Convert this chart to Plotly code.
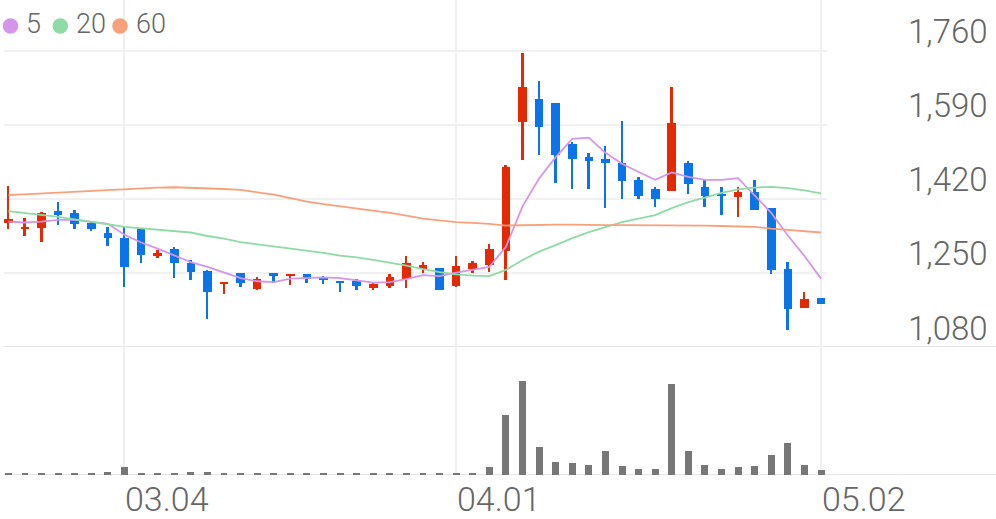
import numpy as np
import plotly.graph_objects as go

dates = ["02.20","02.21","02.24","02.25","02.26","02.27","02.28","03.04","03.05","03.06",
         "03.07","03.10","03.11","03.12","03.13","03.14","03.17","03.18","03.19","03.20",
         "03.21","03.24","03.25","03.26","03.27","03.28","03.31","04.01","04.02","04.03",
         "04.04","04.07","04.08","04.09","04.10","04.11","04.14","04.15","04.16","04.17",
         "04.18","04.21","04.22","04.23","04.24","04.25","04.28","04.29","04.30","05.02"]

opens = [1365,1353,1354,1393,1387,1366,1341,1331,1350,1291,
         1305,1274,1255,1225,1251,1213,1249,1243,1247,1240,
         1232,1232,1216,1219,1236,1259,1261,1219,1259,1268,
         1301,1598,1650,1641,1546,1516,1511,1503,1464,1443,
         1438,1502,1447,1432,1425,1437,1399,1259,1169,1193]
highs = [1450,1377,1391,1414,1395,1370,1356,1355,1350,1303,
         1309,1280,1257,1230,1251,1240,1249,1248,1247,1242,
         1232,1236,1228,1247,1289,1275,1261,1289,1278,1316,
         1498,1756,1692,1641,1552,1526,1542,1599,1471,1448,
         1677,1507,1464,1448,1448,1464,1399,1276,1206,1193]
lows = [1351,1336,1322,1360,1350,1347,1312,1217,1272,1284,
        1238,1234,1144,1202,1218,1212,1228,1222,1228,1224,
        1207,1211,1211,1215,1215,1249,1212,1218,1251,1253,
        1234,1509,1521,1457,1443,1443,1400,1420,1420,1402,
        1438,1431,1401,1383,1379,1395,1248,1119,1169,1179]
closes = [1374,1356,1387,1383,1362,1351,1330,1264,1291,1295,
          1272,1253,1207,1230,1228,1236,1243,1248,1236,1236,
          1226,1219,1224,1240,1272,1268,1212,1265,1272,1304,
          1494,1678,1585,1521,1512,1508,1502,1462,1427,1420,
          1594,1454,1427,1426,1437,1395,1257,1167,1190,1179]

ma5 = [1368,1366,1368,1372,1372,1368,1363,1338,1320,1306,
       1290,1275,1264,1251,1238,1231,1229,1237,1238,1240,
       1238,1233,1228,1229,1236,1245,1243,1251,1258,1264,
       1310,1403,1467,1516,1558,1561,1526,1501,1482,1464,
       1481,1471,1464,1464,1468,1428,1388,1336,1289,1237]
ma20 = [1392,1388,1383,1379,1373,1368,1362,1356,1353,1350,
        1347,1343,1335,1329,1321,1316,1312,1307,1302,1296,
        1290,1286,1280,1274,1267,1259,1252,1247,1244,1243,
        1257,1280,1299,1314,1330,1344,1356,1367,1375,1383,
        1399,1413,1423,1434,1442,1446,1448,1445,1440,1433]
ma60 = [1429,1431,1433,1435,1437,1439,1441,1443,1444,1446,
        1447,1446,1445,1443,1441,1436,1430,1422,1414,1408,
        1403,1399,1394,1388,1382,1375,1371,1367,1365,1363,
        1359,1360,1361,1361,1361,1360,1360,1360,1360,1359,
        1359,1359,1359,1358,1357,1356,1352,1349,1345,1343]

volumes = [17,15,17,15,15,15,27,77,25,14,
           14,26,33,15,14,14,13,14,14,13,
           14,14,13,15,17,15,18,17,22,77,
           600,940,283,133,117,100,240,90,57,63,
           910,243,97,63,77,90,200,323,100,50]

price_ticks = [1080, 1250, 1420, 1590, 1760]
price_labels = ["1,080", "1,250", "1,420", "1,590", "1,760"]
date_ticks = ["03.04", "04.01", "05.02"]

ma_names = ["5", "20", "60"]
ma_colors = ["#d595ea", "#8edba5", "#f7a17b"]

UP = "#e32a05"
DOWN = "#0a74e8"
TXT = "#666666"
GRID = "#f0f0f0"

W, H = 996, 519
o = np.array(opens, float); c = np.array(closes, float)
hi = np.array(highs, float); lo = np.array(lows, float)
cols = [UP if cc >= oo else DOWN for oo, cc in zip(o, c)]

fig = go.Figure()
fig.add_trace(go.Bar(x=dates, y=hi - lo, base=lo, width=0.12,
                     marker=dict(color=cols, line=dict(width=0)),
                     xaxis="x", yaxis="y", hoverinfo="skip", showlegend=False))
fig.add_trace(go.Bar(x=dates, y=np.abs(c - o), base=np.minimum(o, c), width=0.52,
                     marker=dict(color=cols, line=dict(width=0)),
                     xaxis="x", yaxis="y", showlegend=False))
for name, vals, col in zip(ma_names, [ma5, ma20, ma60], ma_colors):
    fig.add_trace(go.Scatter(x=dates, y=vals, mode="lines", name=name,
                             line=dict(color=col, width=1.8),
                             xaxis="x", yaxis="y", showlegend=False))
fig.add_trace(go.Bar(x=dates, y=volumes, width=0.42,
                     marker=dict(color="#777777", line=dict(width=0)),
                     xaxis="x2", yaxis="y2", showlegend=False))

xr = [-0.265, 49.36]
xdom = [4 / W, 827 / W]
price_dom = [1 - 347 / H, 1]
vol_dom = [1 - 475 / H, 1 - 347 / H]

axis_common = dict(type="category", range=xr, domain=xdom, showgrid=True,
                   gridcolor=GRID, gridwidth=1.5, tickvals=date_ticks,
                   showticklabels=False, ticks="", zeroline=False, showline=False,
                   fixedrange=True)

fig.update_layout(
    width=W, height=H, margin=dict(l=0, r=0, t=0, b=0),
    paper_bgcolor="white", plot_bgcolor="white",
    barmode="overlay", bargap=0, showlegend=False,
    xaxis=dict(anchor="y", **axis_common),
    xaxis2=dict(anchor="y2", **axis_common),
    yaxis=dict(domain=price_dom, range=[1080, 1877.1], tickvals=price_ticks[1:],
               showgrid=True, gridcolor=GRID, gridwidth=2, showticklabels=False,
               zeroline=False, showline=False, ticks="", fixedrange=True),
    yaxis2=dict(domain=vol_dom, range=[0, 1280], showgrid=False, showticklabels=False,
                zeroline=False, showline=False, ticks="", fixedrange=True),
)

fig.add_shape(type="line", xref="paper", yref="y", x0=4 / W, x1=1, y0=1080, y1=1080,
              line=dict(color="#e6e6e6", width=2), layer="below")
fig.add_shape(type="line", xref="paper", yref="y2", x0=4 / W, x1=1, y0=0, y1=0,
              line=dict(color="#e6e6e6", width=2), layer="below")

font_y = dict(family="Roboto", size=33, color=TXT, weight=300)
font_x = dict(family="Roboto", size=34, color=TXT, weight=300)
for v, t in zip(price_ticks, price_labels):
    fig.add_annotation(x=990 / W, xref="paper", y=v, yref="y", text=t, showarrow=False,
                       xanchor="right", yanchor="middle", yshift=19, font=font_y)
for d in date_ticks:
    fig.add_annotation(x=dates.index(d), xref="x2", y=1 - 498.5 / H, yref="paper", text=d,
                       showarrow=False, xanchor="left", yanchor="middle", xshift=-1,
                       font=font_x)

dot_cx = [10.5, 60.3, 120.0]
txt_x = [24.0, 73.5, 133.5]
for name, col, cx, tx in zip(ma_names, ma_colors, dot_cx, txt_x):
    r = 7.8
    fig.add_shape(type="circle", xref="paper", yref="paper",
                  x0=(cx - r) / W, x1=(cx + r) / W, y0=1 - (26 + r) / H, y1=1 - (26 - r) / H,
                  fillcolor=col, line=dict(width=0))
    fig.add_annotation(x=tx / W, xref="paper", y=1 - 24.5 / H, yref="paper", text=name,
                       showarrow=False, xanchor="left", yanchor="middle",
                       font=dict(family="Roboto", size=27, color=TXT, weight=300))

fig.write_html("out.html", config={"displayModeBar": False},
               post_script="document.body.style.margin='0';")
